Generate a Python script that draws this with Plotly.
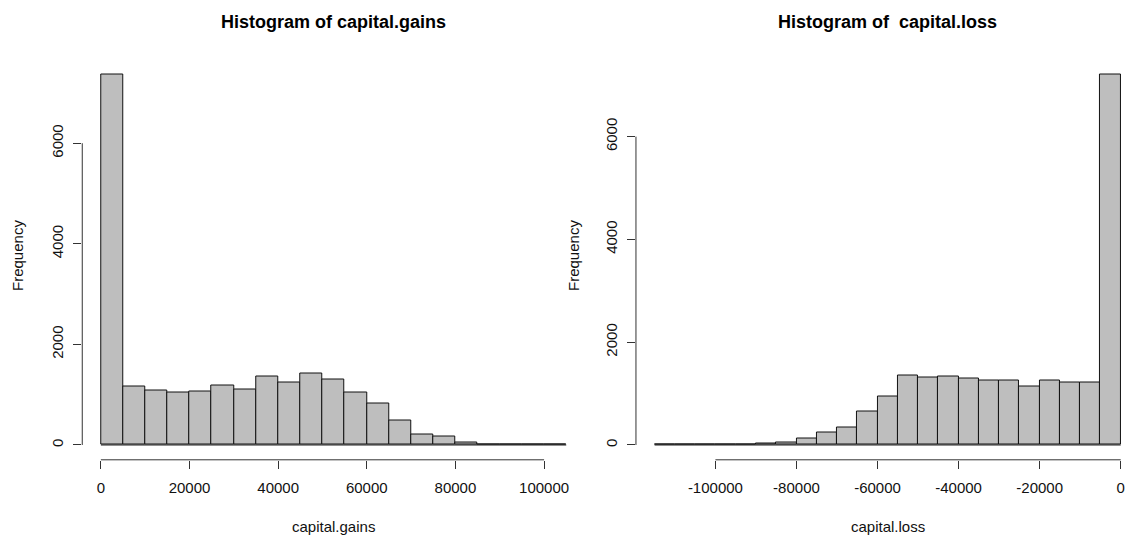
import plotly.graph_objects as go

# ---- data ----
gains_bin_start = 0
gains_bin_width = 5000
gains_counts = [7370, 1167, 1087, 1048, 1068, 1187, 1107, 1358, 1247, 1418, 1306,
                1034, 821, 491, 213, 175, 53, 18, 0, 0, 0]
gains_ticks = [0, 20000, 40000, 60000, 80000, 100000]
gains_ticklabels = ["0", "20000", "40000", "60000", "80000", "100000"]

loss_bin_start = -115000
loss_bin_width = 5000
loss_counts = [0, 0, 0, 0, 0, 22, 40, 130, 247, 331, 642, 947, 1348, 1304, 1329,
               1290, 1251, 1251, 1142, 1251, 1220, 1220, 7212]
loss_ticks = [-100000, -80000, -60000, -40000, -20000, 0]
loss_ticklabels = ["-100000", "-80000", "-60000", "-40000", "-20000", "0"]

freq_ticks = [0, 2000, 4000, 6000]
freq_ticklabels = ["0", "2000", "4000", "6000"]

titles = ["Histogram of capital.gains", "Histogram of \u00a0capital.loss"]
xlabels = ["capital.gains", "capital.loss"]
ylabel = "Frequency"

# ---- layout geometry (pixels) ----
W, H = 1125, 535
plot_top, plot_bot = 59.5, 459.8
left_px = (82.4, 585.9)
right_px = (637.1, 1141.4)   # extends beyond the window (cropped like the reference)

FONT = "Liberation Sans, Arial, sans-serif"
FILL = "#BEBEBE"


def edges(start, width, counts):
    return [start + width * i for i in range(len(counts) + 1)]


def centers(start, width, counts):
    return [start + width * (i + 0.5) for i in range(len(counts))]


fig = go.Figure()

g_edges = edges(gains_bin_start, gains_bin_width, gains_counts)
l_edges = edges(loss_bin_start, loss_bin_width, loss_counts)

fig.add_trace(go.Bar(
    x=centers(gains_bin_start, gains_bin_width, gains_counts), y=gains_counts,
    width=gains_bin_width, marker=dict(color=FILL, line=dict(color="#111111", width=1)),
    xaxis="x", yaxis="y", showlegend=False, hoverinfo="x+y"))
fig.add_trace(go.Bar(
    x=centers(loss_bin_start, loss_bin_width, loss_counts), y=loss_counts,
    width=loss_bin_width, marker=dict(color=FILL, line=dict(color="#111111", width=1)),
    xaxis="x2", yaxis="y2", showlegend=False, hoverinfo="x+y"))

ydom = [(H - plot_bot) / H, (H - plot_top) / H]

# R-style 4% padding
g_rng = [g_edges[0] - 0.04 * (g_edges[-1] - g_edges[0]), g_edges[-1] + 0.04 * (g_edges[-1] - g_edges[0])]
l_rng_full = [l_edges[0] - 0.04 * (l_edges[-1] - l_edges[0]), l_edges[-1] + 0.04 * (l_edges[-1] - l_edges[0])]
# right panel is cut by the window edge
vis_frac = (W - right_px[0]) / (right_px[1] - right_px[0])
l_rng = [l_rng_full[0], l_rng_full[0] + vis_frac * (l_rng_full[1] - l_rng_full[0])]

gmax, lmax = max(gains_counts), max(loss_counts)

tickfont = dict(family=FONT, size=15, color="#111111")

common_x = dict(showgrid=False, zeroline=False, showline=False, ticks="outside",
                ticklen=8, tickwidth=1, tickcolor="#333333", tickfont=tickfont,
                ticklabelstandoff=6, ticklabeloverflow="allow", fixedrange=True)
common_y = dict(showgrid=False, zeroline=False, showline=False, ticks="outside",
                ticklen=8, tickwidth=1, tickcolor="#333333", tickfont=tickfont,
                tickangle=-90, ticklabelstandoff=4, fixedrange=True,
                tickvals=freq_ticks, ticktext=freq_ticklabels)

fig.update_layout(
    width=W, height=H, margin=dict(l=0, r=0, t=0, b=0),
    paper_bgcolor="white", plot_bgcolor="white", bargap=0,
    font=dict(family=FONT, color="#111111"),
    xaxis=dict(domain=[left_px[0] / W, left_px[1] / W], range=g_rng, anchor="y",
               tickvals=gains_ticks, ticktext=gains_ticklabels, **common_x),
    yaxis=dict(domain=ydom, range=[-0.04 * gmax, 1.04 * gmax], anchor="x", **common_y),
    xaxis2=dict(domain=[right_px[0] / W, 1.0], range=l_rng, anchor="y2",
                tickvals=loss_ticks, ticktext=loss_ticklabels, **common_x),
    yaxis2=dict(domain=ydom, range=[-0.04 * lmax, 1.04 * lmax], anchor="x2", **common_y),
)

# axis lines spanning only the tick range (R style) and zero-count baselines
line_style = dict(color="#333333", width=1)
for xr, yr, xt, e in (("x", "y", gains_ticks, g_edges), ("x2", "y2", loss_ticks, l_edges)):
    fig.add_shape(type="line", xref=xr, yref=yr + " domain", x0=xt[0], x1=xt[-1], y0=0, y1=0,
                  line=line_style)
    fig.add_shape(type="line", xref=xr + " domain", yref=yr, x0=0, x1=0,
                  y0=freq_ticks[0], y1=freq_ticks[-1], line=line_style)
    fig.add_shape(type="line", xref=xr, yref=yr, x0=e[0], x1=e[-1], y0=0, y1=0,
                  line=dict(color="#111111", width=1), layer="above")

# titles and axis labels
panel_centers = [(left_px[0] + left_px[1]) / 2 / W, (right_px[0] + right_px[1]) / 2 / W]
ylab_x = [18 / W, 575 / W]
for i in range(2):
    fig.add_annotation(text="<b>" + titles[i] + "</b>", x=panel_centers[i], y=1 - 22 / H,
                       xref="paper", yref="paper", showarrow=False,
                       font=dict(family=FONT, size=18, color="#000000"),
                       xanchor="center", yanchor="middle")
    fig.add_annotation(text=xlabels[i], x=panel_centers[i], y=1 - 526 / H,
                       xref="paper", yref="paper", showarrow=False,
                       font=dict(family=FONT, size=15, color="#111111"),
                       xanchor="center", yanchor="middle")
    fig.add_annotation(text=ylabel, x=ylab_x[i], y=1 - 255 / H,
                       xref="paper", yref="paper", showarrow=False, textangle=-90,
                       font=dict(family=FONT, size=15, color="#111111"),
                       xanchor="center", yanchor="middle")

fig.write_html(
    "out.html",
    config={"displayModeBar": False},
    post_script="document.body.style.margin='0px';document.body.style.padding='0px';"
                "document.body.style.overflow='hidden';"
                "document.documentElement.style.overflow='hidden';",
)
